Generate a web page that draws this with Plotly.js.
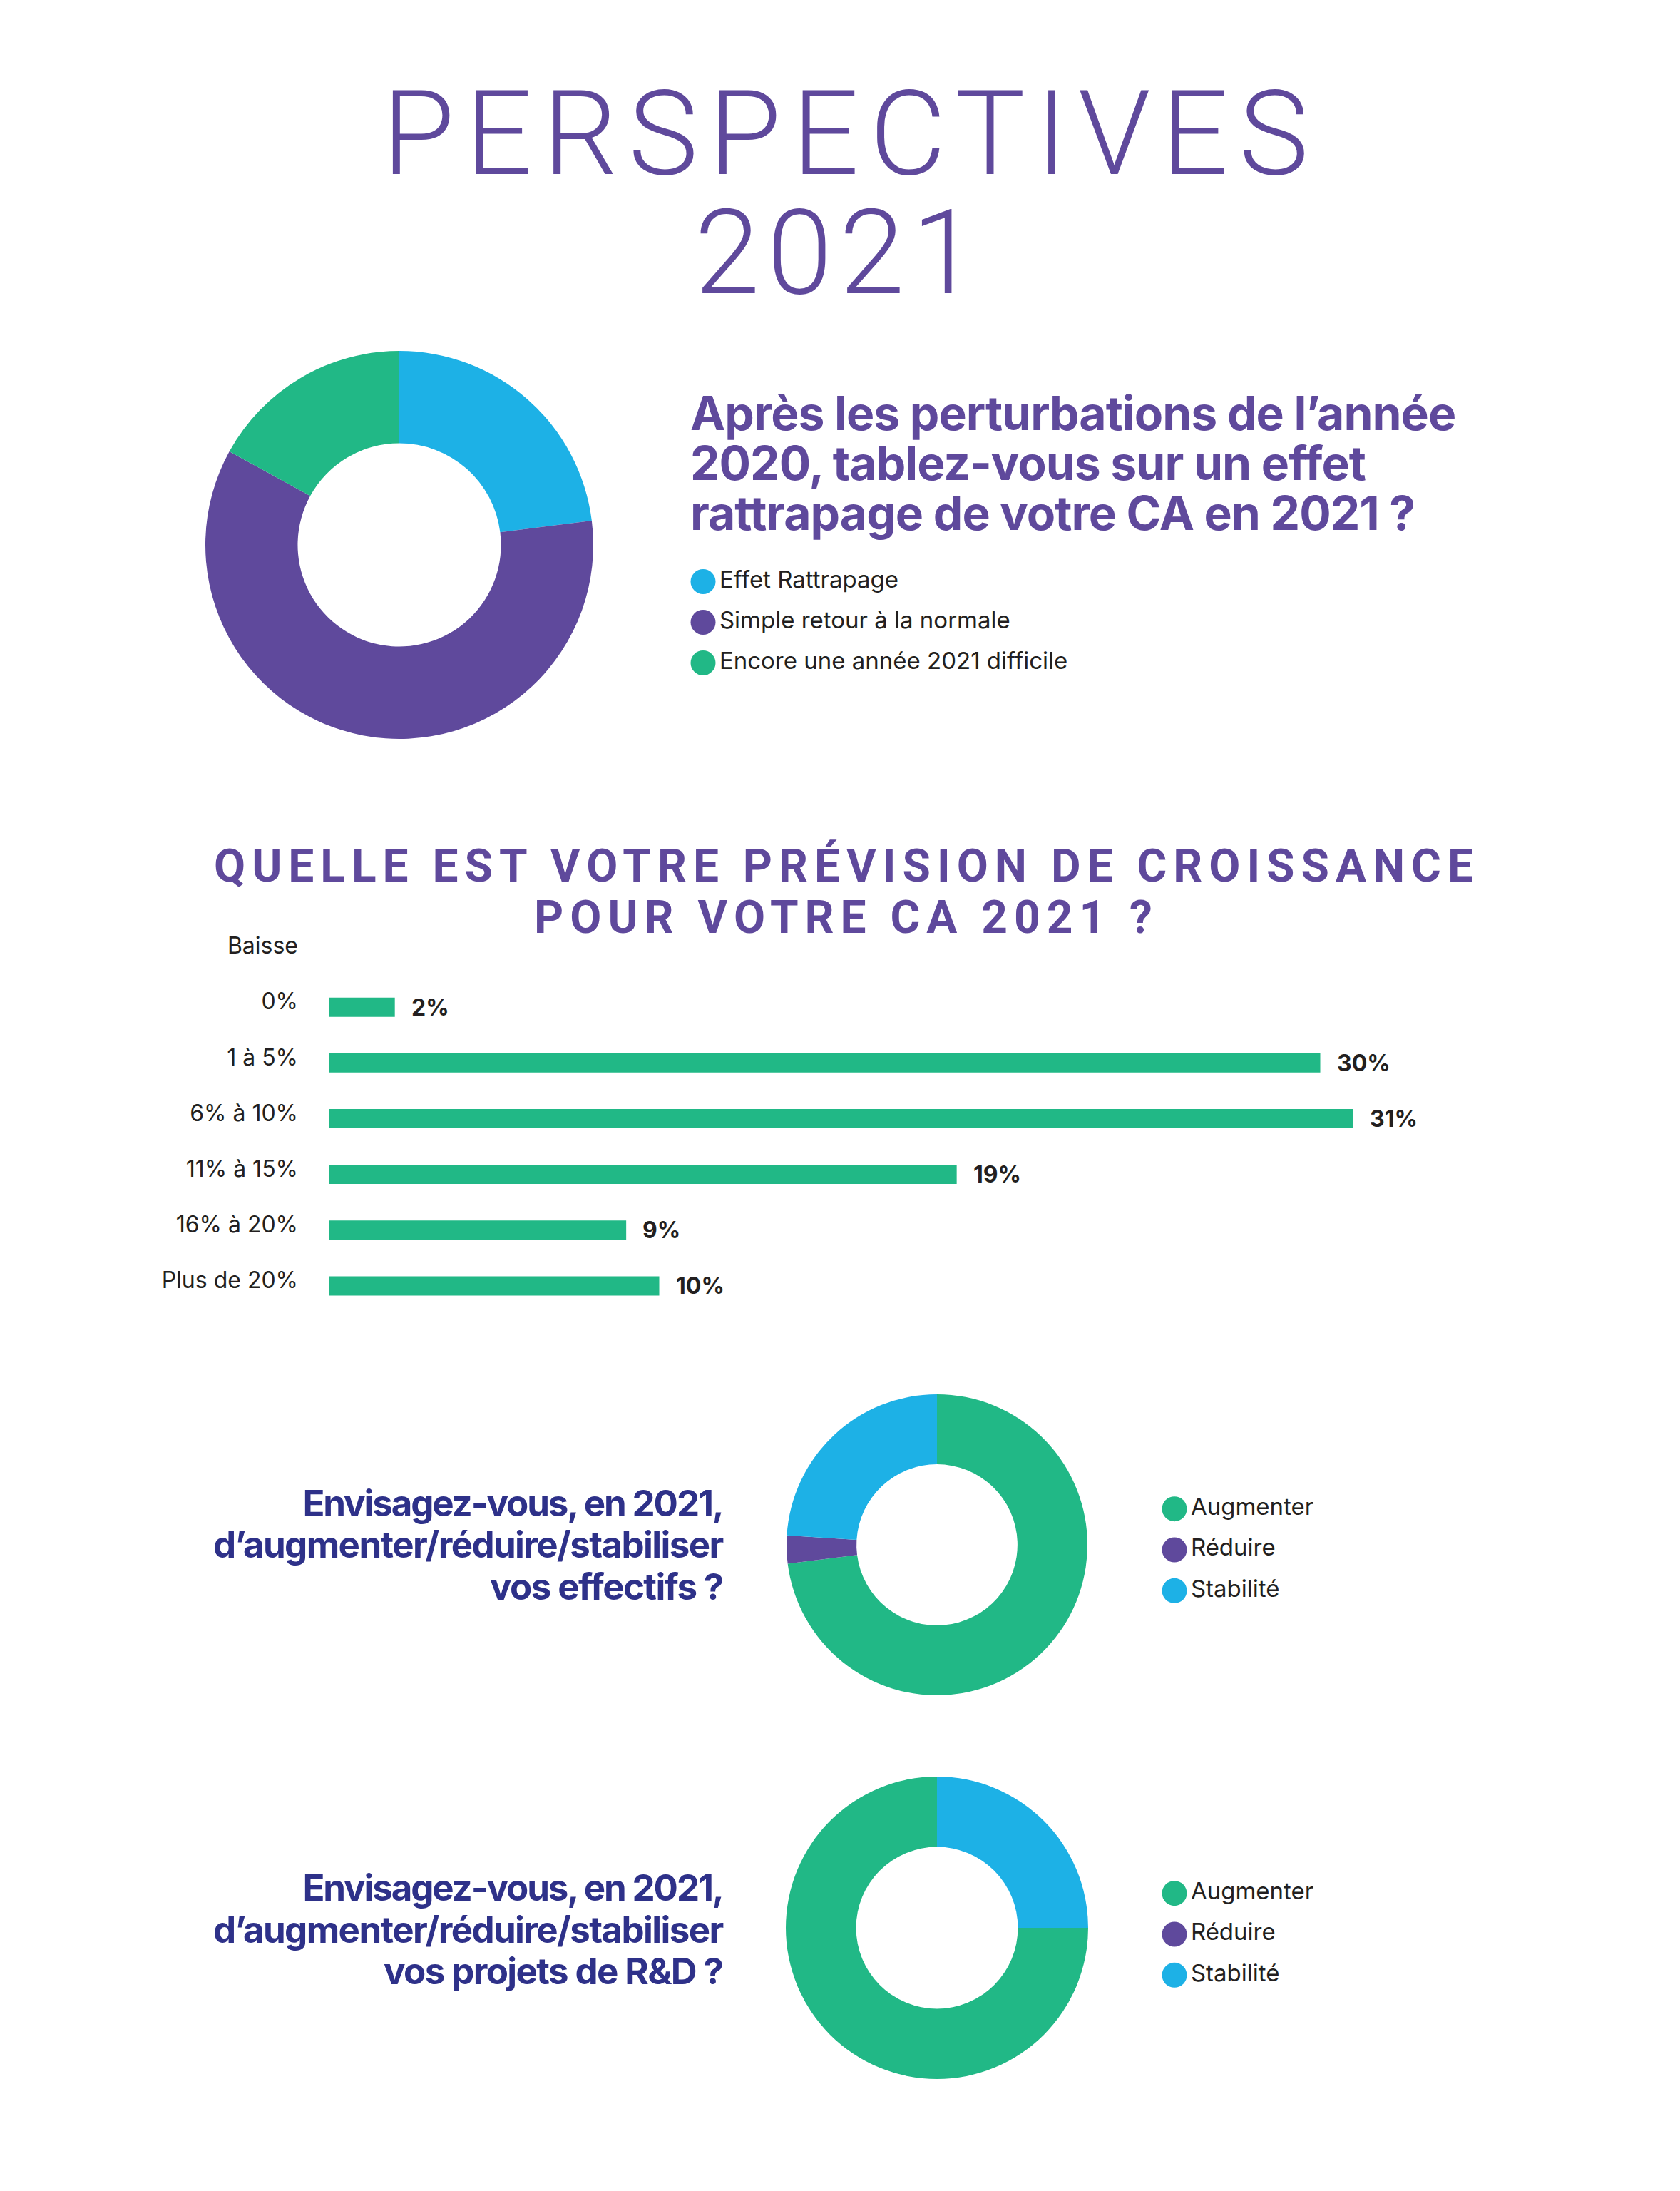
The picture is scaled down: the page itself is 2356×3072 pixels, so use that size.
<!DOCTYPE html>
<html><head><meta charset="utf-8">
<script src="https://cdn.plot.ly/plotly-3.0.1.min.js"></script>
<style>
html,body{margin:0;padding:0;background:#fff;}
g.annotation[data-index="0"] text{letter-spacing:15px;}
g.annotation[data-index="1"] text{letter-spacing:10px;}
g.annotation[data-index="2"] text, g.annotation[data-index="3"] text{letter-spacing:9px;}
g.annotation[data-index="4"] text, g.annotation[data-index="5"] text, g.annotation[data-index="6"] text{letter-spacing:-1px;}
g.annotation[data-index="7"] text, g.annotation[data-index="10"] text{letter-spacing:-2.1px;}
g.annotation[data-index="8"] text, g.annotation[data-index="9"] text,
g.annotation[data-index="11"] text, g.annotation[data-index="12"] text{letter-spacing:-1.6px;}
</style>
</head><body><div id="chart" style="width:2356px;height:3072px;"></div>
<script>
// ---------- data ----------
const titleLines = ['PERSPECTIVES', '2021'];
const q1Lines = ['Après les perturbations de l’année', '2020, tablez-vous sur un effet', 'rattrapage de votre CA en 2021 ?'];
const pie1Labels = ['Effet Rattrapage', 'Simple retour à la normale', 'Encore une année 2021 difficile'];
const pie1Values = [23, 60, 17];

const barTitleLines = ['QUELLE EST VOTRE PRÉVISION DE CROISSANCE', 'POUR VOTRE CA 2021 ?'];
const barCategories = ['Baisse', '0%', '1 à 5%', '6% à 10%', '11% à 15%', '16% à 20%', 'Plus de 20%'];
const barValues = [null, 2, 30, 31, 19, 9, 10];

const q2Lines = ['Envisagez-vous, en 2021,', 'd’augmenter/réduire/stabiliser', 'vos effectifs ?'];
const q3Lines = ['Envisagez-vous, en 2021,', 'd’augmenter/réduire/stabiliser', 'vos projets de R&D ?'];
const pieLabels = ['Augmenter', 'Réduire', 'Stabilité'];
const pie2Values = [73, 3, 24];
const pie3Values = [75, 0, 25];

// ---------- style ----------
const W = 2356, H = 3072;
const BLUE = '#1db1e6', PURPLE = '#5f499c', GREEN = '#21b886', NAVY = '#2e3189', DARK = '#231f20';
const FONT = 'Inter, Roboto, "Noto Sans", sans-serif';
const TFONT = 'Roboto, Inter, sans-serif';
const px = v => v / W;          // x pixel -> paper
const py = v => 1 - v / H;      // y pixel -> paper
const pie1Colors = [BLUE, PURPLE, GREEN];
const pieColors = [GREEN, PURPLE, BLUE];

const traces = [];
// pies
traces.push({type: 'pie', labels: pie1Labels, values: pie1Values, marker: {colors: pie1Colors},
  hole: 0.524, sort: false, direction: 'clockwise', rotation: 0, textinfo: 'none', hoverinfo: 'none',
  domain: {x: [px(288), px(832)], y: [py(1036), py(492)]}, showlegend: false});
traces.push({type: 'pie', labels: pieLabels, values: pie2Values, marker: {colors: pieColors},
  hole: 0.535, sort: false, direction: 'clockwise', rotation: 0, textinfo: 'none', hoverinfo: 'none',
  domain: {x: [px(1103), px(1525)], y: [py(2377), py(1955)]}, showlegend: false});
traces.push({type: 'pie', labels: pieLabels, values: pie3Values, marker: {colors: pieColors},
  hole: 0.535, sort: false, direction: 'clockwise', rotation: 90, textinfo: 'none', hoverinfo: 'none',
  domain: {x: [px(1102), px(1526)], y: [py(2915), py(2491)]}, showlegend: false});

// bars
traces.push({type: 'bar', orientation: 'h', x: barValues, y: barCategories, marker: {color: GREEN},
  xaxis: 'x', yaxis: 'y', hoverinfo: 'none', showlegend: false});

// legends drawn as scatter on hidden axes
function legendTrace(labels, colors, ax) {
  return {type: 'scatter', mode: 'markers+text', x: labels.map(() => 0), y: labels.map((l, i) => i),
    text: labels, textposition: 'middle right', cliponaxis: false,
    marker: {size: 35, color: colors}, textfont: {family: FONT, size: 33, color: DARK},
    xaxis: 'x' + ax, yaxis: 'y' + ax, hoverinfo: 'none', showlegend: false};
}
traces.push(legendTrace(pie1Labels, pie1Colors, 2));
traces.push(legendTrace(pieLabels, pieColors, 3));
traces.push(legendTrace(pieLabels, pieColors, 4));

// annotations
const annotations = [];
function ann(text, x, y, size, color, weight, xanchor, family) {
  annotations.push({text: text, x: x, y: y, xref: 'paper', yref: 'paper', showarrow: false,
    xanchor: xanchor, align: xanchor === 'center' ? 'center' : xanchor, yanchor: 'middle',
    font: {family: family || FONT, size: size, color: color, weight: weight}});
}
ann(titleLines[0], px(1193), py(187), 165, PURPLE, 300, 'center', TFONT);
ann(titleLines[1], px(1177), py(354), 165, PURPLE, 300, 'center', TFONT);
ann(barTitleLines[0], px(1187), py(1214), 64, PURPLE, 700, 'center', TFONT);
ann(barTitleLines[1], px(1187), py(1286), 64, PURPLE, 700, 'center', TFONT);
[579, 649, 719].forEach((y, i) => ann(q1Lines[i], px(966), py(y), 66, PURPLE, 700, 'left'));
[2107, 2165, 2224].forEach((y, i) => ann(q2Lines[i], px(1016), py(y), 51, NAVY, 700, 'right'));
[2646, 2705, 2763].forEach((y, i) => ann(q3Lines[i], px(1016), py(y), 51, NAVY, 700, 'right'));
// bar value labels
barCategories.forEach((c, i) => {
  if (barValues[i] == null) return;
  annotations.push({text: barValues[i] + '%', x: barValues[i], y: c, xref: 'x', yref: 'y', showarrow: false,
    xanchor: 'left', yanchor: 'middle', xshift: 21, font: {family: FONT, size: 32, color: DARK, weight: 700}});
});

function hiddenAxis(domain, range) {
  return {domain: domain, range: range, visible: false, fixedrange: true};
}

const layout = {
  width: W, height: H, margin: {l: 0, r: 0, t: 0, b: 0},
  paper_bgcolor: '#ffffff', plot_bgcolor: '#ffffff', showlegend: false,
  font: {family: FONT, color: DARK},
  xaxis: {domain: [px(461), px(2315)], range: [0, 40], visible: false, fixedrange: true},
  yaxis: {domain: [py(1842), py(1295)], type: 'category', categoryarray: barCategories, categoryorder: 'array',
    range: [6.5, -0.5], showgrid: false, zeroline: false, showline: false, ticks: '',
    tickfont: {family: FONT, size: 32, color: DARK}, ticklabelstandoff: 42, ticklabelshift: 8, fixedrange: true},
  bargap: 0.655,
  xaxis2: hiddenAxis([px(986), px(1700)], [0, 1]), yaxis2: Object.assign(hiddenAxis([py(958), py(787)], [2.5, -0.5]), {anchor: 'x2'}),
  xaxis3: hiddenAxis([px(1647), px(2300)], [0, 1]), yaxis3: Object.assign(hiddenAxis([py(2259), py(2087)], [2.5, -0.5]), {anchor: 'x3'}),
  xaxis4: hiddenAxis([px(1647), px(2300)], [0, 1]), yaxis4: Object.assign(hiddenAxis([py(2798), py(2626)], [2.5, -0.5]), {anchor: 'x4'}),
  annotations: annotations
};
layout.xaxis2.anchor = 'y2'; layout.xaxis3.anchor = 'y3'; layout.xaxis4.anchor = 'y4';

Plotly.newPlot('chart', traces, layout, {displayModeBar: false, staticPlot: true});
</script>
</body></html>
